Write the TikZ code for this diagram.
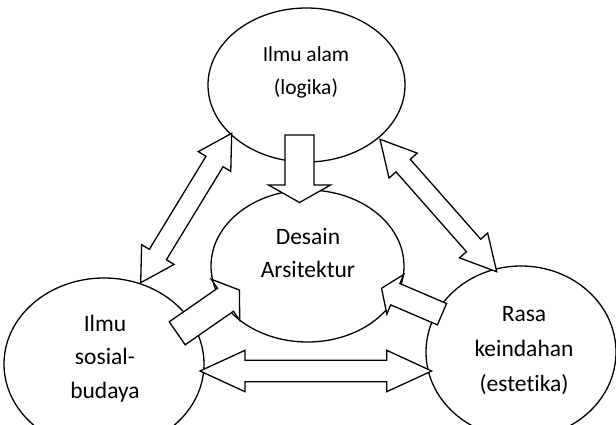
\documentclass[tikz,border=0pt]{standalone}
\usepackage{fontspec}
\setmainfont{Carlito}[Ligatures={NoCommon}, Contextuals={NoAlternate}]
\usetikzlibrary{calc,shapes.geometric}
\tikzset{
  bub/.style={draw, ellipse, line width=1.3pt, inner sep=0pt, fill=white},
  blockarr/.style={draw, fill=white, line width=1.3pt, line join=miter},
  lbl/.style={align=center, font=\fontsize{23.5}{33.5}\selectfont, inner sep=0pt},
  lblwide/.style={align=center, font=\fontsize{23.5}{35}\selectfont, inner sep=0pt},
  lblsmall/.style={align=center, font=\fontsize{21.5}{33}\selectfont, inner sep=0pt},
}
\newcommand\arrgeom[2]{%
  \path let \p1=(#1), \p2=(#2),
    \n1={atan2(\y2-\y1,\x2-\x1)}, \n2={veclen(\x2-\x1,\y2-\y1)} in
    \pgfextra{\pgfmathparse{\n1}\xdef\arrang{\pgfmathresult}%
              \pgfmathparse{\n2}\xdef\arrlen{\pgfmathresult}};}
% double block arrow: #1 end, #2 end, #3 shaft half width, #4 head half width, #5 head length
\newcommand\dblarrow[5]{%
  \arrgeom{#1}{#2}%
  \draw[blockarr, shift={(#1)}, rotate=\arrang]
    (0pt,0pt) -- (#5pt,#4pt) -- (#5pt,#3pt) -- ({(\arrlen-#5)*1pt},#3pt)
    -- ({(\arrlen-#5)*1pt},#4pt) -- ({\arrlen*1pt},0pt) -- ({(\arrlen-#5)*1pt},-#4pt)
    -- ({(\arrlen-#5)*1pt},-#3pt) -- (#5pt,-#3pt) -- (#5pt,-#4pt) -- cycle;}
% single block arrow: #1 tail, #2 tip
\newcommand\snglarrow[5]{%
  \arrgeom{#1}{#2}%
  \draw[blockarr, shift={(#1)}, rotate=\arrang]
    (0pt,#3pt) -- ({(\arrlen-#5)*1pt},#3pt) -- ({(\arrlen-#5)*1pt},#4pt)
    -- ({\arrlen*1pt},0pt) -- ({(\arrlen-#5)*1pt},-#4pt)
    -- ({(\arrlen-#5)*1pt},-#3pt) -- (0pt,-#3pt) -- cycle;}
\begin{document}
\begin{tikzpicture}[x=1pt,y=-1pt]
  \fill[white] (0,0) rectangle (616,424);
  \useasboundingbox (0,0) rectangle (616,424);
  \clip (0,0) rectangle (616,424);
  % ellipses
  \node[bub, minimum width=197pt, minimum height=154pt] (top) at (306.5,85) {};
  \node[bub, minimum width=193pt, minimum height=152pt] (mid) at (307.5,266) {};
  \node[bub, minimum width=200pt, minimum height=172pt] (left) at (104,364) {};
  \node[bub, minimum width=190pt, minimum height=172pt] (right) at (521,352) {};
  % arrow end points
  \coordinate (dnT) at (299.5,135);
  \coordinate (dnH) at (299.5,202.5);
  \coordinate (laT) at (177.2,333.3);
  \coordinate (laH) at (239.5,290);
  \coordinate (raT) at (442,314.2);
  \coordinate (raH) at (381.5,288.3);
  \coordinate (tlA) at (140.7,282.7);
  \coordinate (tlB) at (231.7,133.3);
  \coordinate (trA) at (380,139.3);
  \coordinate (trB) at (496.7,271.7);
  \coordinate (btA) at (200,371);
  \coordinate (btB) at (431.7,371);
  % arrows
  \snglarrow{dnT}{dnH}{14.5}{31}{17.5}
  \snglarrow{laT}{laH}{14}{25}{17}
  \snglarrow{raT}{raH}{11.6}{21.5}{15}
  \dblarrow{tlA}{tlB}{10}{19}{33}
  \dblarrow{trA}{trB}{9.5}{18.8}{35}
  \dblarrow{btA}{btB}{10.8}{20.7}{45}
  % texts
  \node[lblsmall] (ttop) at (306,72.5) {Ilmu alam\\(logika)};
  \node[lbl] (tmid) at (308,253) {Desain\\Arsitektur};
  \node[lbl] (tleft) at (105,358.5) {Ilmu\\sosial-\\budaya};
  \node[lblwide] (tright) at (524,351) {Rasa\\keindahan\\(estetika)};
\end{tikzpicture}
\end{document}
